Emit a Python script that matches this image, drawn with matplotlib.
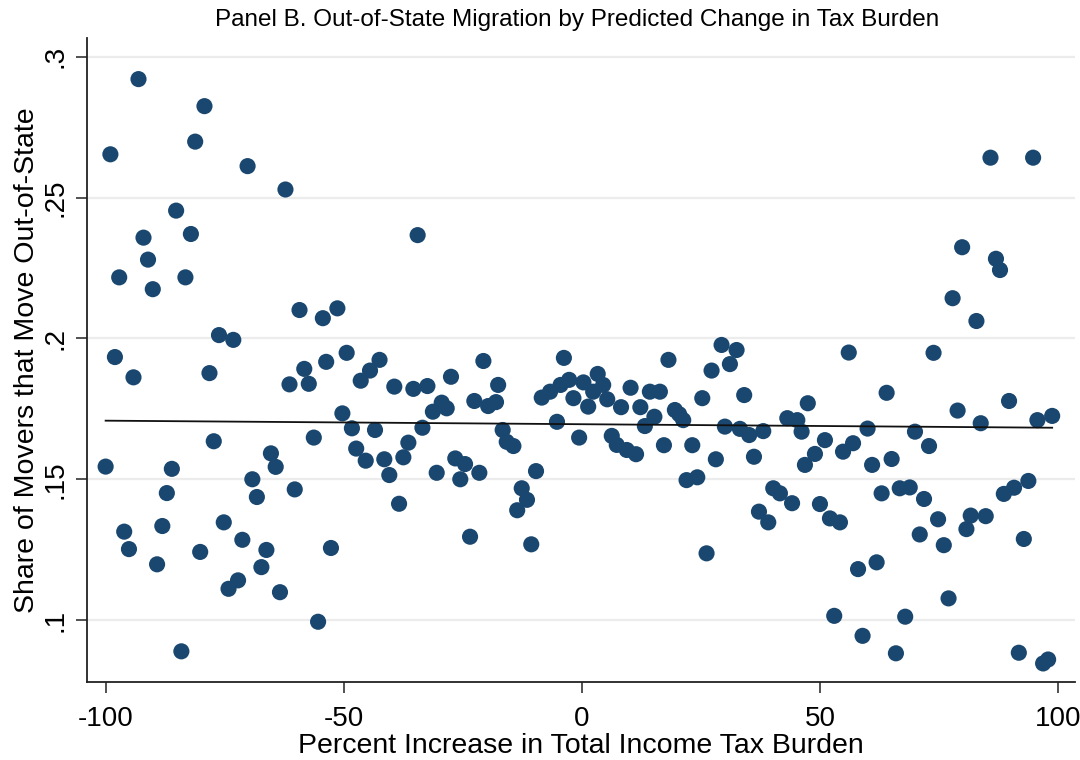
import numpy as np
import matplotlib
matplotlib.use("Agg")
import matplotlib.pyplot as plt

plt.rcParams['font.family'] = ['Liberation Sans', 'DejaVu Sans']
plt.rcParams['axes.unicode_minus'] = False

title = "Panel B. Out-of-State Migration by Predicted Change in Tax Burden"
x_label = "Percent Increase in Total Income Tax Burden"
y_label = "Share of Movers that Move Out-of-State"

x_ticks = [-100, -50, 0, 50, 100]
x_tick_labels = ["-100", "-50", "0", "50", "100"]
y_ticks = [0.1, 0.15, 0.2, 0.25, 0.3]
y_tick_labels = [".1", ".15", ".2", ".25", ".3"]

# predicted percent change in tax burden (bin) and share of movers leaving the state
pct_change = [
    -93.1, -79.25, -99.0, -81.2, -70.2, -62.25, -85.2, -92.05, -82.1, -91.1,
    -97.15, -83.25, -90.1, -59.3, -54.4, -76.2, -73.2, -98.05, -53.7, -34.5,
    -51.35, -49.4, -42.5, -20.7, -3.8, 18.15, 29.3, 32.45, 31.05, 85.75,
    94.7, 79.8, 86.9, 87.75, 77.8, 82.8, 56.0, 73.8, -94.15, -78.2,
    -58.3, -61.4, -57.35, -77.3, -56.3, -100.0, -86.1, -65.3, -64.3, -69.2,
    -68.25, -60.3, -87.15, -96.1, -95.1, -88.1, -75.2, -71.3, -66.25, -67.3,
    -80.15, -89.2, -72.2, -74.2, -63.4, -55.4, -84.1, -52.7, -44.5, -46.45,
    -39.4, -35.4, -32.45, -27.5, -17.6, -22.6, -19.7, -18.05, -29.45, -31.3,
    -28.4, -50.3, -48.3, -43.45, -33.5, -8.45, -6.7, -4.5, -5.25, -16.65,
    -15.8, -14.4, -47.4, -45.4, -41.5, -40.45, -37.5, -36.45, -30.5, -26.6,
    -24.55, -25.55, -21.55, -9.65, -12.65, -11.55, -13.6, -38.4, -23.5, -10.65,
    27.2, -2.7, 0.3, 3.3, 4.45, -1.8, 1.3, 2.35, 5.3, 8.2,
    10.2, 12.25, 14.25, 16.35, 15.2, 13.2, 19.5, 20.4, 21.25, 25.25,
    34.05, 30.0, 33.15, 35.1, 38.05, 47.4, 43.1, 45.2, 46.1, 46.8,
    -0.6, 6.25, 7.3, 9.4, 11.35, 17.2, 23.15, 28.1, 36.1, 21.95,
    24.2, 40.15, 41.55, 44.1, 37.15, 39.1, 26.15, 63.95, 78.85, 89.65,
    95.6, 98.7, 83.7, 59.95, 69.9, 72.85, 51.0, 56.9, 54.8, 48.9,
    65.0, 60.9, 62.9, 66.7, 68.8, 71.8, 49.95, 52.05, 54.15, 74.75,
    70.9, 75.95, 81.6, 80.7, 84.75, 88.55, 90.7, 93.7, 92.75, 61.85,
    57.95, 76.95, 52.95, 67.85, 58.9, 65.9, 91.7, 96.8, 97.85,
]
share_out_of_state = [
    0.2921, 0.2825, 0.2654, 0.2699, 0.2612, 0.2529, 0.2454, 0.2358, 0.2371, 0.2280,
    0.2217, 0.2217, 0.2175, 0.2101, 0.2072, 0.2012, 0.1995, 0.1934, 0.1917, 0.2367,
    0.2107, 0.1949, 0.1924, 0.1920, 0.1931, 0.1924, 0.1977, 0.1959, 0.1909, 0.2642,
    0.2642, 0.2324, 0.2283, 0.2243, 0.2143, 0.2062, 0.1950, 0.1949, 0.1862, 0.1877,
    0.1892, 0.1837, 0.1839, 0.1635, 0.1648, 0.1545, 0.1537, 0.1592, 0.1544, 0.1500,
    0.1437, 0.1464, 0.1451, 0.1314, 0.1252, 0.1334, 0.1347, 0.1285, 0.1249, 0.1188,
    0.1242, 0.1198, 0.1141, 0.1111, 0.1099, 0.0994, 0.0889, 0.1256, 0.1886, 0.1850,
    0.1829, 0.1821, 0.1831, 0.1864, 0.1835, 0.1778, 0.1760, 0.1774, 0.1772, 0.1740,
    0.1752, 0.1734, 0.1681, 0.1675, 0.1683, 0.1790, 0.1811, 0.1835, 0.1704, 0.1675,
    0.1633, 0.1618, 0.1609, 0.1566, 0.1571, 0.1515, 0.1578, 0.1630, 0.1523, 0.1574,
    0.1554, 0.1500, 0.1523, 0.1529, 0.1468, 0.1427, 0.1390, 0.1413, 0.1296, 0.1269,
    0.1886, 0.1853, 0.1844, 0.1874, 0.1835, 0.1788, 0.1758, 0.1811, 0.1784, 0.1756,
    0.1825, 0.1756, 0.1811, 0.1811, 0.1722, 0.1689, 0.1746, 0.1731, 0.1710, 0.1788,
    0.1799, 0.1687, 0.1679, 0.1657, 0.1671, 0.1770, 0.1717, 0.1710, 0.1669, 0.1551,
    0.1648, 0.1654, 0.1622, 0.1604, 0.1589, 0.1621, 0.1621, 0.1571, 0.1580, 0.1497,
    0.1507, 0.1468, 0.1450, 0.1415, 0.1385, 0.1347, 0.1237, 0.1807, 0.1744, 0.1778,
    0.1710, 0.1725, 0.1699, 0.1680, 0.1669, 0.1618, 0.1639, 0.1628, 0.1598, 0.1590,
    0.1572, 0.1551, 0.1450, 0.1468, 0.1471, 0.1430, 0.1412, 0.1361, 0.1347, 0.1358,
    0.1304, 0.1266, 0.1371, 0.1323, 0.1369, 0.1448, 0.1470, 0.1494, 0.1288, 0.1205,
    0.1181, 0.1077, 0.1015, 0.1012, 0.0944, 0.0882, 0.0884, 0.0846, 0.0860,
]

# weighted linear fit (intercept, slope per percentage point)
fit_intercept = 0.16955
fit_slope = -0.0000126

x = np.array(pct_change)
y = np.array(share_out_of_state)

fig = plt.figure(figsize=(10.8, 7.6), dpi=100)
ax = fig.add_axes([0.0806, 0.1026, 0.9148, 0.8474])

navy = "#1a476f"
ax.scatter(x, y, s=135, color=navy, edgecolors="none", zorder=3)

xf = np.array([x.min(), x.max()])
ax.plot(xf, fit_intercept + fit_slope * xf, color="#111111", lw=1.3, zorder=4)

ax.set_xlim(-103.9, 103.5)
ax.set_ylim(0.078, 0.3067)

ax.set_xticks(x_ticks)
ax.set_xticklabels(x_tick_labels, fontsize=20)
ax.set_yticks(y_ticks)
ax.set_yticklabels(y_tick_labels, fontsize=20, rotation=90, va="center")

ax.tick_params(axis="both", direction="out", length=8, width=1.1, color="#222222")
ax.tick_params(axis="x", pad=9)
ax.tick_params(axis="y", pad=5)

ax.yaxis.grid(True, color="#ececec", lw=1.6)
ax.set_axisbelow(True)

for side in ("top", "right"):
    ax.spines[side].set_visible(False)
for side in ("left", "bottom"):
    ax.spines[side].set_linewidth(1.3)
    ax.spines[side].set_color("#222222")

ax.set_xlabel(x_label, fontsize=20.5, labelpad=1)
ax.set_ylabel(y_label, fontsize=20.5, labelpad=2)
fig.text(577 / 1080, 1 - 20 / 760, title, fontsize=17.5, ha="center", va="center")

fig.savefig("out.png", dpi=100, facecolor="white")
